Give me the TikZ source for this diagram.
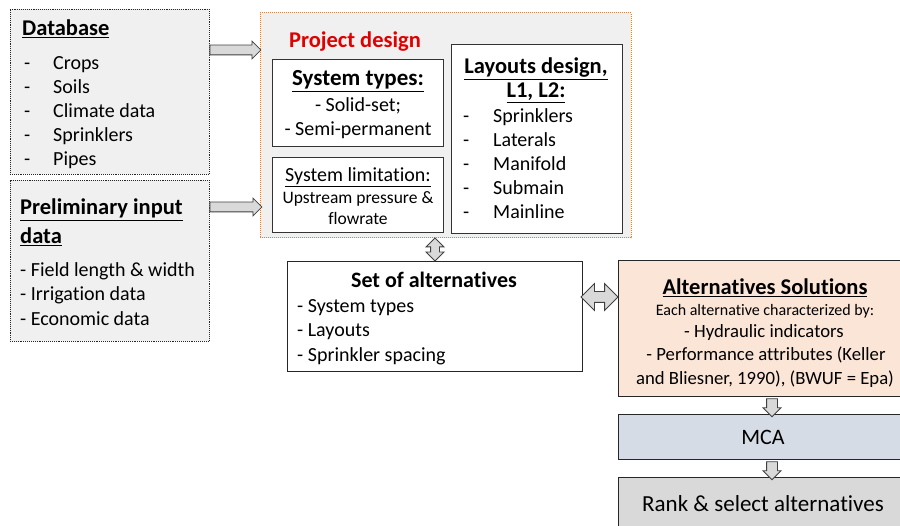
\documentclass[tikz,border=0pt]{standalone}
\usepackage{fontspec}
\setmainfont{Carlito}[Ligatures={NoCommon,NoContextual}]
\usetikzlibrary{shapes.arrows,positioning}

\definecolor{boxgray}{HTML}{F0F0F0}
\definecolor{pdorange}{HTML}{ED7D31}
\definecolor{peach}{HTML}{FBE5D6}
\definecolor{mcablue}{HTML}{D6DCE5}
\definecolor{rankgray}{HTML}{D9D9D9}
\definecolor{arrowgray}{HTML}{D9D9D9}
\definecolor{titlered}{HTML}{E00000}

\tikzset{
	box/.style={draw=black!80, fill=white, line width=0.9pt, inner sep=0pt},
	dotbox/.style={draw=black!85, densely dotted, fill=boxgray, line width=0.9pt, inner sep=0pt},
	txt/.style={inner sep=0pt, yshift=-3pt, font=\fontsize{20}{24}\selectfont, text height=13pt, text depth=4pt},
	lbl/.style={txt, anchor=west},
	ttl/.style={txt, font=\fontsize{22.5}{26}\selectfont\bfseries, text height=15pt, text depth=5pt},
	small/.style={txt, font=\fontsize{17.5}{20}\selectfont, text height=11pt, text depth=3.5pt},
	fatarrow/.style={single arrow, draw=black!75, fill=arrowgray, line width=0.8pt, inner sep=4.5pt,
		single arrow head extend=4pt, single arrow head indent=0pt},
	dblarrow/.style={double arrow, draw=black!75, fill=arrowgray, line width=0.8pt, inner sep=4pt,
		double arrow head extend=4.5pt}
}

\begin{document}
\begin{tikzpicture}[x=1pt,y=-1pt]
	\useasboundingbox (0,0) rectangle (900,526);
	\clip (0,0) rectangle (900,526);
	
	% input boxes
	\node[dotbox, minimum width=199pt, minimum height=165pt] (db) at (109.5,91.5) {};
	\node[dotbox, minimum width=199pt, minimum height=161pt] (pre) at (109.5,260.5) {};
	
	\node[ttl, anchor=west] (db-t) at (22,28) {\underline{Database}};
	\foreach \s [count=\i] in {Crops,Soils,Climate data,Sprinklers,Pipes} {
		\node[lbl] (db-d\i) at (24,38+24*\i) {-};
		\node[lbl] (db-\i) at (53,38+24*\i) {\s};
	}
	
	\node[ttl, anchor=west] (pre-t1) at (20,207) {\underline{Preliminary input}};
	\node[ttl, anchor=west] (pre-t2) at (20,236) {\underline{data}};
	\foreach \s [count=\i] in {Field length \& width,Irrigation data,Economic data}
		\node[lbl] (pre-\i) at (20,244.5+24.5*\i) {- \s};
	
	% project design
	\node[draw=pdorange, densely dotted, fill=boxgray, line width=1pt, inner sep=0pt,
		minimum width=371pt, minimum height=225pt] (pd) at (445.5,125.5) {};
	\node[ttl, text=titlered] (pd-t) at (355,40) {Project design};
	
	\node[box, minimum width=171pt, minimum height=87pt] (st) at (357.5,102.5) {};
	\node[ttl, font=\fontsize{23}{27}\selectfont\bfseries] (st-t) at (358,78) {\underline{System types:}};
	\node[txt] (st-1) at (358,104) {- Solid-set;};
	\node[txt] (st-2) at (358,128) {- Semi-permanent};
	
	\node[box, minimum width=171pt, minimum height=75pt] (sl) at (357.5,194.5) {};
	\node[txt] (sl-t) at (358,174) {\underline{System limitation:}};
	\node[small] (sl-1) at (358,197) {Upstream pressure \&};
	\node[small] (sl-2) at (358,218) {flowrate};
	
	\node[box, minimum width=171pt, minimum height=189pt] (ld) at (536.5,138.5) {};
	\node[ttl] (ld-t1) at (536,66) {\underline{Layouts design,}};
	\node[ttl] (ld-t2) at (536,90) {\underline{L1, L2:}};
	\foreach \s [count=\i] in {Sprinklers,Laterals,Manifold,Submain,Mainline} {
		\node[lbl] (ld-d\i) at (463,91+24*\i) {-};
		\node[lbl] (ld-\i) at (493,91+24*\i) {\s};
	}
	
	% alternatives
	\node[box, draw=black!85, minimum width=295pt, minimum height=110pt] (soa) at (434.5,316) {};
	\node[ttl, font=\fontsize{22}{26}\selectfont\bfseries] (soa-t) at (434,280) {Set of alternatives};
	\foreach \s [count=\i] in {System types,Layouts,Sprinkler spacing}
		\node[lbl] (soa-\i) at (297,280.5+24.5*\i) {- \s};
	
	\node[box, draw=black!85, fill=peach, minimum width=294pt, minimum height=136pt] (as) at (765,328) {};
	\node[ttl] (as-t) at (765,287) {\underline{Alternatives Solutions}};
	\node[small, font=\fontsize{16}{19}\selectfont] (as-1) at (765,309) {Each alternative characterized by:};
	\node[txt, font=\fontsize{18.7}{22}\selectfont] (as-2) at (764,330) {- Hydraulic indicators};
	\node[txt, font=\fontsize{18.7}{22}\selectfont] (as-3) at (766,353) {- Performance attributes (Keller};
	\node[txt, font=\fontsize{18.7}{22}\selectfont] (as-4) at (765,377) {and Bliesner, 1990), (BWUF = Epa)};
	
	\node[box, draw=black!85, fill=mcablue, minimum width=294pt, minimum height=45pt] (mca) at (765,436.5) {};
	\node[txt, font=\fontsize{22}{26}\selectfont] (mca-t) at (763,437) {MCA};
	
	\node[box, draw=black!85, fill=rankgray, minimum width=294pt, minimum height=63pt] (rank) at (765,508.5) {};
	\node[txt, font=\fontsize{23}{27}\selectfont] (rank-t) at (763,504) {Rank \& select alternatives};
	
	% block arrows
	\node[fatarrow, anchor=west, minimum height=51pt] (ar-db) at (db.east |- 0,50) {};
	\node[fatarrow, anchor=west, minimum height=52pt] (ar-pre) at (pre.east |- 0,207) {};
	\node[dblarrow, shape border rotate=90, minimum height=23pt] (ar-pd) at (435,249.5) {};
	\node[dblarrow, minimum height=37pt, inner sep=5pt, double arrow head extend=8pt] (ar-as) at (599.5,297) {};
	\node[fatarrow, inner sep=5pt, single arrow head extend=3.5pt, shape border rotate=270, minimum height=18pt] (ar-mca) at (772,405) {};
	\node[fatarrow, inner sep=5pt, single arrow head extend=3.5pt, shape border rotate=270, minimum height=18pt] (ar-rank) at (772,468) {};
\end{tikzpicture}
\end{document}
